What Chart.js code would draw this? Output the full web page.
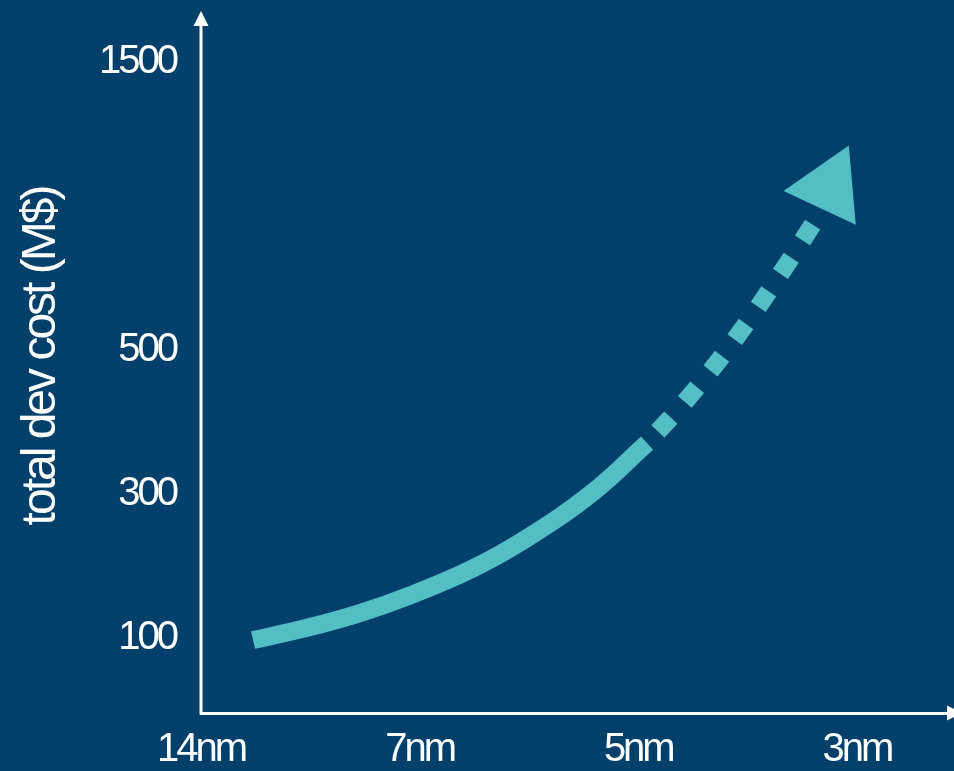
<!DOCTYPE html>
<html>
<head>
<meta charset="utf-8">
<script src="https://cdn.jsdelivr.net/npm/chart.js@4"></script>
<style>
  html, body { margin: 0; padding: 0; background: #00406B; overflow: hidden; }
  canvas { display: block; }
</style>
</head>
<body>
<canvas id="c" width="954" height="771"></canvas>
<script>
// ---- data ----
const nodeLabels = ['14nm', '7nm', '5nm', '3nm'];
const nodePositions = [0, 1, 2, 3];
const costTickLabels = ['100', '300', '500', '1500'];
const costTickValues = [100, 300, 500, 1500];
const costTickLevels = [0, 1, 2, 4];

// measured trend (solid)
const trendX = [0.238, 0.485, 0.727, 0.969, 1.244, 1.491, 1.793, 2.040];
const trendCost = [96.5, 113.5, 134, 160, 196, 238, 302, 370];
// projected trend (dotted)
const projX = [2.040, 2.232, 2.460, 2.671, 2.808];
const projCost = [370, 434, 554, 786, 946];
// arrow head
const arrowX = [2.874];
const arrowCost = [1064];

// piecewise axis: cost -> axis level
function costToLevel(c) {
  const v = costTickValues, l = costTickLevels;
  let i = 0;
  while (i < v.length - 2 && c > v[i + 1]) i++;
  return l[i] + (c - v[i]) * (l[i + 1] - l[i]) / (v[i + 1] - v[i]);
}
const toPts = (xs, cs) => xs.map((x, i) => ({ x: x, y: costToLevel(cs[i]) }));

const BG = '#00406B';
const TEAL = '#53BEC4';

const bgAndArrows = {
  id: 'bgAndArrows',
  beforeDraw(chart) {
    const { ctx, width, height } = chart;
    ctx.save();
    ctx.fillStyle = BG;
    ctx.fillRect(0, 0, width, height);
    ctx.restore();
    // tight tracking for all axis text
    ctx.letterSpacing = '-3px';
  },
  afterDraw(chart) {
    const { ctx, chartArea: a } = chart;
    ctx.letterSpacing = '0px';
    ctx.save();
    // y axis line + arrow
    ctx.strokeStyle = '#ffffff';
    ctx.lineWidth = 3;
    ctx.beginPath();
    ctx.moveTo(a.left, a.bottom + 1.5);
    ctx.lineTo(a.left, a.top + 14);
    ctx.stroke();
    ctx.fillStyle = '#ffffff';
    ctx.beginPath();
    ctx.moveTo(a.left, a.top + 11);
    ctx.lineTo(a.left - 7.5, a.top + 26);
    ctx.lineTo(a.left + 7.5, a.top + 26);
    ctx.closePath();
    ctx.fill();
    // x axis arrow
    ctx.beginPath();
    ctx.moveTo(a.right + 8, a.bottom);
    ctx.lineTo(a.right - 7, a.bottom - 7.5);
    ctx.lineTo(a.right - 7, a.bottom + 7.5);
    ctx.closePath();
    ctx.fill();
    ctx.restore();
  }
};

const sans = "'Liberation Sans', Arial, sans-serif";

new Chart(document.getElementById('c'), {
  type: 'line',
  data: {
    datasets: [
      {
        data: toPts(arrowX, arrowCost),
        showLine: false,
        pointStyle: 'triangle',
        pointRadius: 46,
        pointHoverRadius: 46,
        pointRotation: 25,
        pointBackgroundColor: TEAL,
        pointBorderWidth: 0,
        pointBorderColor: TEAL
      },
      {
        data: toPts(projX, projCost),
        borderColor: TEAL,
        borderWidth: 18,
        borderDash: [19, 21],
        borderDashOffset: 24,
        borderCapStyle: 'butt',
        tension: 0.4,
        pointRadius: 0,
        fill: false
      },
      {
        data: toPts(trendX, trendCost),
        borderColor: TEAL,
        borderWidth: 18,
        borderCapStyle: 'butt',
        tension: 0.4,
        pointRadius: 0,
        fill: false
      }
    ]
  },
  options: {
    responsive: false,
    animation: false,
    events: [],
    layout: { autoPadding: false, padding: 0 },
    plugins: { legend: { display: false }, tooltip: { enabled: false } },
    scales: {
      x: {
        type: 'linear',
        min: 0,
        max: 3.444,
        afterBuildTicks: s => { s.ticks = nodePositions.map(v => ({ value: v })); },
        afterFit: s => { s.height = 58; s.paddingLeft = 0; s.paddingRight = 0; },
        grid: { display: false, drawTicks: false },
        border: { display: true, color: '#ffffff', width: 3 },
        ticks: {
          color: '#ffffff',
          font: { family: sans, size: 40 },
          padding: 13,
          maxRotation: 0,
          autoSkip: false,
          callback: v => nodeLabels[nodePositions.indexOf(v)]
        }
      },
      y: {
        type: 'linear',
        min: -0.524,
        max: 4.427,
        afterBuildTicks: s => { s.ticks = costTickLevels.map(v => ({ value: v })); },
        afterFit: s => { s.width = 201; s.paddingTop = 0; s.paddingBottom = 0; },
        grid: { display: false, drawTicks: false },
        border: { display: false },
        ticks: {
          color: '#ffffff',
          font: { family: sans, size: 40 },
          padding: 25,
          autoSkip: false,
          callback: v => costTickLabels[costTickLevels.indexOf(v)]
        },
        title: {
          display: true,
          text: 'total dev cost (M$)',
          color: '#ffffff',
          font: { family: sans, size: 48 },
          padding: { top: 13, bottom: 0 }
        }
      }
    }
  },
  plugins: [bgAndArrows]
});
</script>
</body>
</html>
